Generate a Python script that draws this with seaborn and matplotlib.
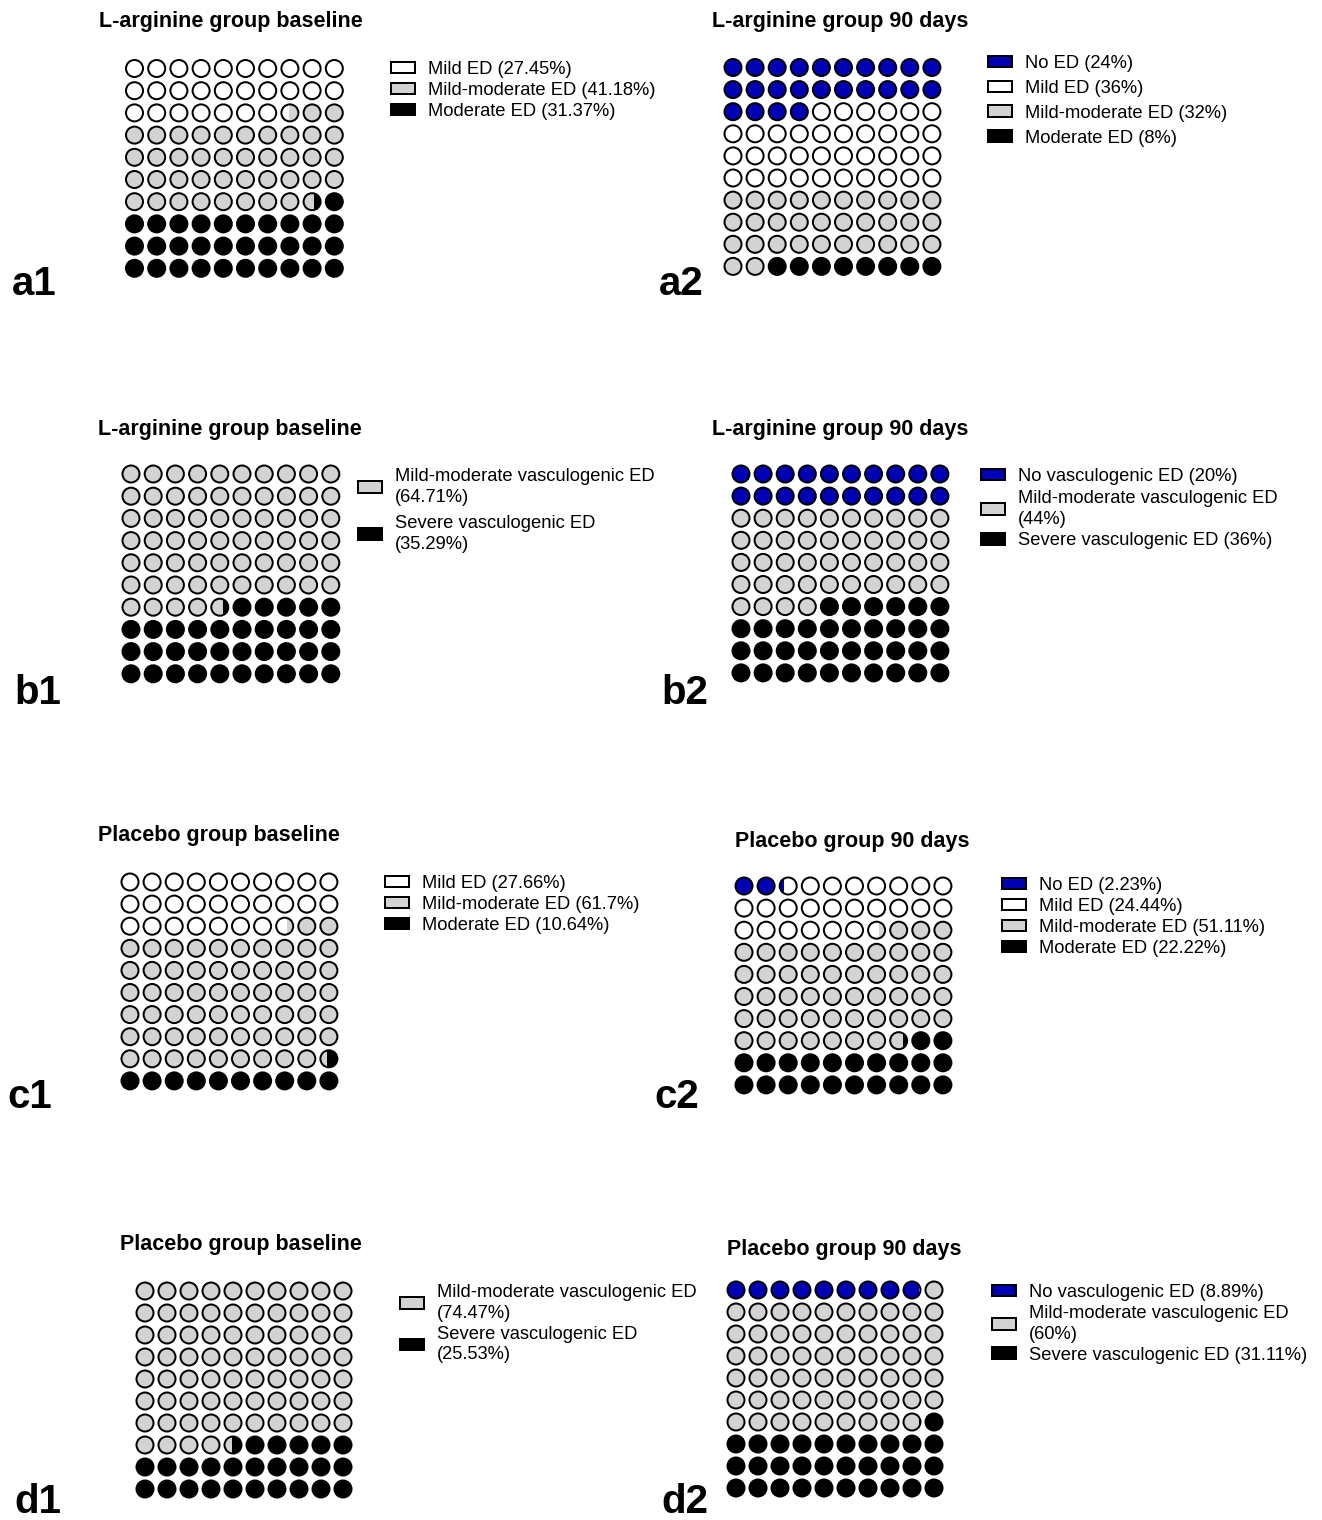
import numpy as np
import pandas as pd
import matplotlib
matplotlib.use("Agg")
import matplotlib.pyplot as plt
from matplotlib.patches import Circle, Rectangle, Patch
import seaborn as sns

# ---------------------------------------------------------------- data
A1_TITLE = "L-arginine group baseline"
A1_LABELS = ["Mild ED", "Mild-moderate ED", "Moderate ED"]
A1_PCT = [27.45, 41.18, 31.37]
A1_WRAP = [False, False, False]

A2_TITLE = "L-arginine group 90 days"
A2_LABELS = ["No ED", "Mild ED", "Mild-moderate ED", "Moderate ED"]
A2_PCT = [24, 36, 32, 8]
A2_WRAP = [False, False, False, False]

B1_TITLE = "L-arginine group baseline"
B1_LABELS = ["Mild-moderate vasculogenic ED", "Severe vasculogenic ED"]
B1_PCT = [64.71, 35.29]
B1_WRAP = [True, True]

B2_TITLE = "L-arginine group 90 days"
B2_LABELS = ["No vasculogenic ED", "Mild-moderate vasculogenic ED", "Severe vasculogenic ED"]
B2_PCT = [20, 44, 36]
B2_WRAP = [False, True, False]

C1_TITLE = "Placebo group baseline"
C1_LABELS = ["Mild ED", "Mild-moderate ED", "Moderate ED"]
C1_PCT = [27.66, 61.7, 10.64]
C1_WRAP = [False, False, False]

C2_TITLE = "Placebo group 90 days"
C2_LABELS = ["No ED", "Mild ED", "Mild-moderate ED", "Moderate ED"]
C2_PCT = [2.23, 24.44, 51.11, 22.22]
C2_WRAP = [False, False, False, False]

D1_TITLE = "Placebo group baseline"
D1_LABELS = ["Mild-moderate vasculogenic ED", "Severe vasculogenic ED"]
D1_PCT = [74.47, 25.53]
D1_WRAP = [True, True]

D2_TITLE = "Placebo group 90 days"
D2_LABELS = ["No vasculogenic ED", "Mild-moderate vasculogenic ED", "Severe vasculogenic ED"]
D2_PCT = [8.89, 60, 31.11]
D2_WRAP = [False, True, False]

PANEL_TAGS = ["a1", "a2", "b1", "b2", "c1", "c2", "d1", "d2"]

# ---------------------------------------------------------------- style
W, H, DPI = 1322, 1520, 100
BLUE, WHITE, GREY, BLACK = "#0000b4", "#ffffff", "#d3d3d3", "#000000"
EDGE_PX = 2.0
DOT_PX = 17.0          # marker diameter (centre of the outline)
LEG_FS = 13.2
LEG_LINESPACING = 1.3
TITLE_FS = 15.5
TAG_FS = 29

sns.set_theme(style="white")
plt.rcParams["font.family"] = ["Liberation Sans", "DejaVu Sans"]
plt.rcParams["text.color"] = BLACK


def severity_color(label):
    if label.startswith("No "):
        return BLUE
    if label.startswith("Mild-moderate"):
        return GREY
    if label.startswith("Mild"):
        return WHITE
    return BLACK


# figure-pixel layout of each panel
LAYOUT = {
    "a1": dict(grid=(134.5, 68.5, 22.2), legend=(391, 61, 0.22), title=(99, 27), tag=(12, 295)),
    "a2": dict(grid=(733.0, 67.5, 22.1), legend=(988, 55, 0.43), title=(712, 27), tag=(659, 295)),
    "b1": dict(grid=(131.0, 474.0, 22.2), legend=(358, 468, 0.50), title=(98, 435), tag=(14, 704)),
    "b2": dict(grid=(741.0, 474.0, 22.1), legend=(981, 468, 0.26), title=(712, 435), tag=(661, 704)),
    "c1": dict(grid=(130.0, 882.0, 22.1), legend=(385, 875, 0.22), title=(98, 841), tag=(7, 1108)),
    "c2": dict(grid=(744.0, 886.0, 22.1), legend=(1002, 877, 0.22), title=(735, 847), tag=(654, 1108)),
    "d1": dict(grid=(145.0, 1291.0, 22.0), legend=(400, 1284, 0.20), title=(120, 1250), tag=(14, 1513)),
    "d2": dict(grid=(736.0, 1290.0, 22.0), legend=(992, 1284, 0.21), title=(727, 1255), tag=(661, 1513)),
}

PANELS = {
    "a1": (A1_TITLE, A1_LABELS, A1_PCT, A1_WRAP),
    "a2": (A2_TITLE, A2_LABELS, A2_PCT, A2_WRAP),
    "b1": (B1_TITLE, B1_LABELS, B1_PCT, B1_WRAP),
    "b2": (B2_TITLE, B2_LABELS, B2_PCT, B2_WRAP),
    "c1": (C1_TITLE, C1_LABELS, C1_PCT, C1_WRAP),
    "c2": (C2_TITLE, C2_LABELS, C2_PCT, C2_WRAP),
    "d1": (D1_TITLE, D1_LABELS, D1_PCT, D1_WRAP),
    "d2": (D2_TITLE, D2_LABELS, D2_PCT, D2_WRAP),
}


def cell_segments(pcts):
    """For each of the 100 cells, the (category, start, end) pieces it holds."""
    edges = np.concatenate([[0.0], np.cumsum(pcts)])
    cells = []
    for i in range(100):
        segs = []
        for k in range(len(pcts)):
            lo = max(edges[k], i)
            hi = min(edges[k + 1], i + 1)
            if hi - lo > 1e-6:
                segs.append((k, lo - i, hi - i))
        cells.append(segs)
    return cells


def fmt_pct(v):
    return f"{v:g}%"


fig = plt.figure(figsize=(W / DPI, H / DPI), dpi=DPI)
lw_pt = EDGE_PX * 72 / DPI

for tag in PANEL_TAGS:
    title, labels, pcts, wraps = PANELS[tag]
    lay = LAYOUT[tag]
    x0, y0, pitch = lay["grid"]

    ax = fig.add_axes([(x0 - pitch / 2) / W, 1 - (y0 + 9.5 * pitch) / H,
                       10 * pitch / W, 10 * pitch / H])
    ax.set_xlim(-0.5, 9.5)
    ax.set_ylim(9.5, -0.5)
    ax.set_axis_off()

    colors = [severity_color(l) for l in labels]
    palette = dict(zip(labels, colors))
    cells = cell_segments(pcts)

    # cells holding a single category: one seaborn scatter layer
    whole = [(i % 10, i // 10, labels[s[0][0]]) for i, s in enumerate(cells) if len(s) == 1]
    df = pd.DataFrame(whole, columns=["col", "row", "severity"])
    sns.scatterplot(data=df, x="col", y="row", hue="severity", palette=palette,
                    s=(DOT_PX * 72 / DPI) ** 2, marker="o", edgecolor=BLACK,
                    linewidth=lw_pt, legend=False, ax=ax, zorder=3)

    # cells shared by two categories: split left/right inside the circle
    r = DOT_PX / 2 / pitch
    for i, segs in enumerate(cells):
        if len(segs) < 2:
            continue
        cx, cy = i % 10, i // 10
        clip = Circle((cx, cy), r, transform=ax.transData)
        for k, a, b in segs:
            rect = Rectangle((cx - r + a * 2 * r, cy - r), (b - a) * 2 * r, 2 * r,
                             facecolor=colors[k], edgecolor="none", zorder=3)
            ax.add_patch(rect)
            rect.set_clip_path(clip)
        ax.add_patch(Circle((cx, cy), r, facecolor="none", edgecolor=BLACK,
                            linewidth=lw_pt, zorder=4))

    handles = []
    for lab, v, wrap, c in zip(labels, pcts, wraps, colors):
        text = f"{lab}\n({fmt_pct(v)})" if wrap else f"{lab} ({fmt_pct(v)})"
        handles.append(Patch(facecolor=c, edgecolor=BLACK, linewidth=lw_pt, label=text))
    lx, ly, spacing = lay["legend"]
    fpx = LEG_FS * DPI / 72
    leg = fig.legend(handles=handles, loc="upper left", bbox_to_anchor=(lx / W, 1 - ly / H),
                     frameon=False, fontsize=LEG_FS, handlelength=24 / fpx,
                     handleheight=11 / fpx, handletextpad=0.7, labelspacing=spacing,
                     borderpad=0, borderaxespad=0)
    for t in leg.get_texts():
        t.set_linespacing(LEG_LINESPACING)
        t.set_color(BLACK)

    tx, ty = lay["title"]
    fig.text(tx / W, 1 - ty / H, title, fontsize=TITLE_FS, fontweight="bold",
             ha="left", va="baseline")
    gx, gy = lay["tag"]
    fig.text(gx / W, 1 - gy / H, tag, fontsize=TAG_FS, fontweight="bold",
             ha="left", va="baseline")

fig.savefig("out.png", dpi=DPI, facecolor="white")
